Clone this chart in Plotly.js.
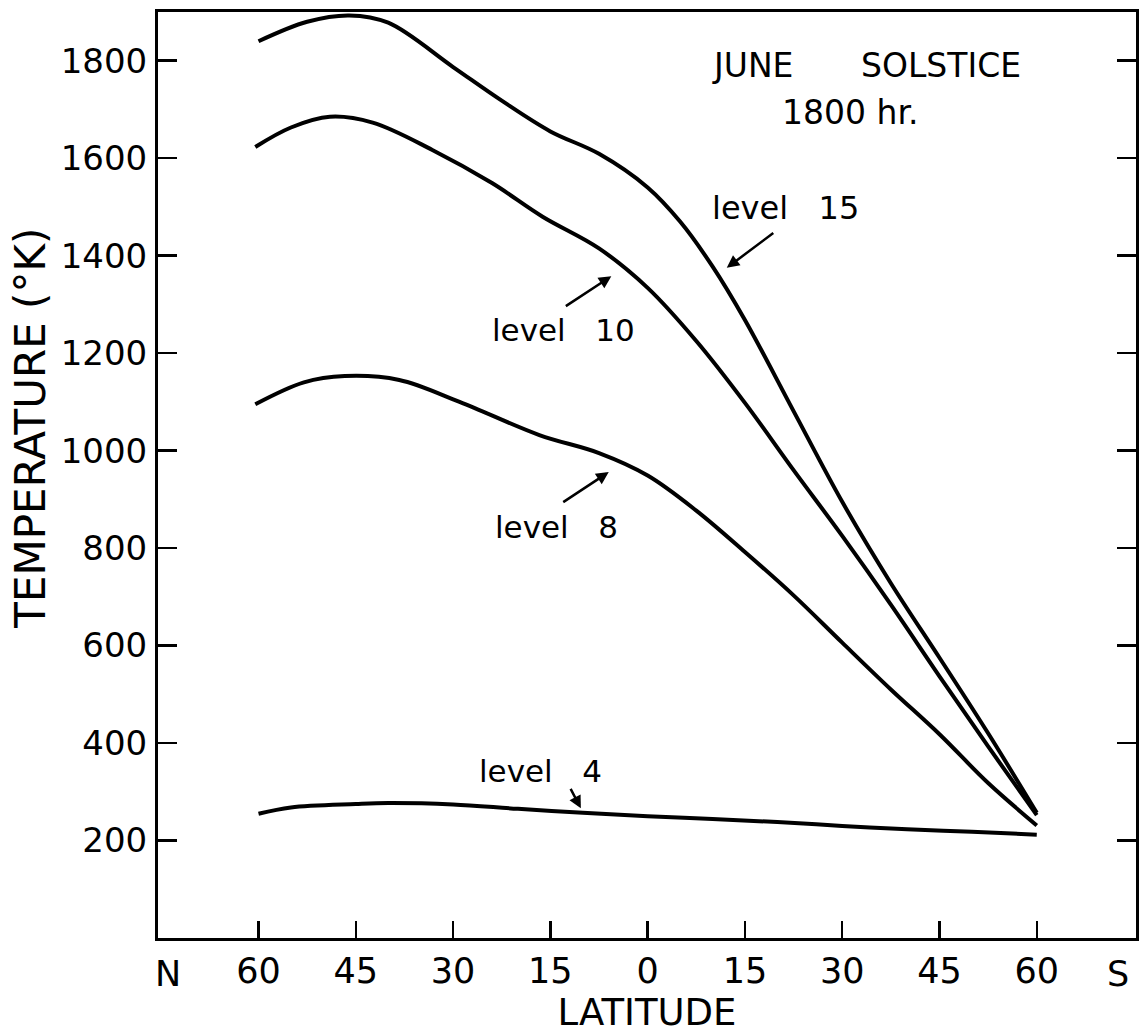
<!DOCTYPE html>
<html>
<head>
<meta charset="utf-8">
<script src="https://cdn.plot.ly/plotly-3.0.1.min.js"></script>
<style>html,body{margin:0;padding:0;background:#fff;}</style>
</head>
<body>
<div id="chart" style="width:1139px;height:1034px;"></div>
<script>
// Latitude: negative = North, positive = South
const lat15 = [-60, -52.5, -46, -40, -30, -22.5, -15, -7.5, 0, 5, 10, 15, 22.5, 30, 37.5, 45, 52.5, 60];
const temp15 = [1840, 1880, 1893, 1878, 1787, 1718, 1655, 1609, 1540, 1470, 1378, 1268, 1081, 895, 728, 575, 420, 257];

const lat10 = [-60.5, -55, -49, -42.4, -33.2, -24, -16.2, -7.5, 0, 7.5, 15, 22.5, 30, 37.5, 45, 52.5, 60];
const temp10 = [1623, 1663, 1685, 1673, 1617, 1549, 1480, 1415, 1334, 1225, 1098, 960, 825, 684, 537, 393, 252];

const lat8 = [-60.5, -53, -46.7, -38.3, -29, -16.7, -7.5, 0, 7.5, 15, 22.5, 30, 37.5, 45, 52.5, 60];
const temp8 = [1095, 1140, 1153, 1145, 1100, 1032, 995, 949, 877, 792, 703, 606, 510, 418, 318, 231];

const lat4 = [-60, -55, -45, -40, -30, -20, -10, 0, 10, 20, 30, 40, 50, 60];
const temp4 = [255, 268, 275, 277, 274, 265, 257, 250, 244, 238, 230, 223, 218, 212];

const tickVals = [-60, -45, -30, -15, 0, 15, 30, 45, 60];
const tickText = ['60', '45', '30', '15', '0', '15', '30', '45', '60'];
const yTicks = [200, 400, 600, 800, 1000, 1200, 1400, 1600, 1800];

const FONT = 'DejaVu Sans, Arial, sans-serif';
const lineStyle = {color: '#000', width: 4, shape: 'spline', smoothing: 1};

const traces = [
  {x: lat15, y: temp15, mode: 'lines', line: lineStyle, name: 'level 15'},
  {x: lat10, y: temp10, mode: 'lines', line: lineStyle, name: 'level 10'},
  {x: lat8, y: temp8, mode: 'lines', line: lineStyle, name: 'level 8'},
  {x: lat4, y: temp4, mode: 'lines', line: lineStyle, name: 'level 4'}
];

const txt = (x, y, text, size) => ({x: x, y: y, xref: 'x', yref: 'y', text: text, showarrow: false,
  font: {family: FONT, size: size || 32, color: '#000'}});
const arr = (x, y, ax, ay) => ({x: x, y: y, xref: 'x', yref: 'y', text: '', showarrow: true,
  ax: ax, ay: ay, arrowhead: 2, arrowsize: 1, arrowwidth: 2.5, arrowcolor: '#000'});

const annotations = [
  txt(16.2, 1790, 'JUNE', 33),
  txt(45.3, 1790, 'SOLSTICE', 33),
  txt(31.2, 1693, '1800 hr.', 33),
  txt(21.3, 1498, 'level\u00a0\u00a0\u00a015'),
  txt(-13, 1247, 'level\u00a0\u00a0\u00a010', 31),
  txt(-14, 843, 'level\u00a0\u00a0\u00a08', 31),
  txt(-16.5, 342, 'level\u00a0\u00a0\u00a04', 31),
  arr(12.2, 1375, 48, -36),
  arr(-5.6, 1358, -47, 31),
  arr(-6.0, 956, -47, 31),
  arr(-10.3, 266, -11, -21),
  {x: -74, y: 0, xref: 'x', yref: 'paper', yanchor: 'top', yshift: -14, text: 'N', showarrow: false,
   font: {family: FONT, size: 35, color: '#000'}},
  {x: 72.5, y: 0, xref: 'x', yref: 'paper', yanchor: 'top', yshift: -14, text: 'S', showarrow: false,
   font: {family: FONT, size: 35, color: '#000'}},
  // y-axis title (placed as in the original, above the axis centre)
  {x: -0.13, y: 0.551, xref: 'paper', yref: 'paper', xanchor: 'center', yanchor: 'middle',
   text: 'TEMPERATURE (°K)', textangle: -90,
   showarrow: false, font: {family: FONT, size: 42, color: '#000'}}
];

const layout = {
  width: 1139, height: 1034,
  margin: {l: 158, r: 3, t: 12, b: 96},
  paper_bgcolor: '#fff', plot_bgcolor: '#fff',
  showlegend: false,
  xaxis: {
    range: [-75.5, 75.3], tickvals: tickVals, ticktext: tickText,
    ticks: 'inside', ticklen: 17, tickwidth: 2.5, tickcolor: '#000',
    showline: true, linewidth: 3, linecolor: '#000', mirror: true,
    showgrid: false, zeroline: false,
    tickfont: {family: FONT, size: 35, color: '#000'},
    ticklabelstandoff: 0,
    title: {text: 'LATITUDE', font: {family: FONT, size: 37, color: '#000'}, standoff: 12}
  },
  yaxis: {
    range: [0, 1900], tickvals: yTicks,
    ticks: 'inside', ticklen: 19, tickwidth: 2.5, tickcolor: '#000',
    showline: true, linewidth: 3, linecolor: '#000', mirror: 'ticks',
    showgrid: false, zeroline: false,
    tickfont: {family: FONT, size: 34, color: '#000'},
    ticklabelstandoff: 1
  },
  annotations: annotations
};

Plotly.newPlot('chart', traces, layout, {displayModeBar: false, staticPlot: true});
</script>
</body>
</html>
